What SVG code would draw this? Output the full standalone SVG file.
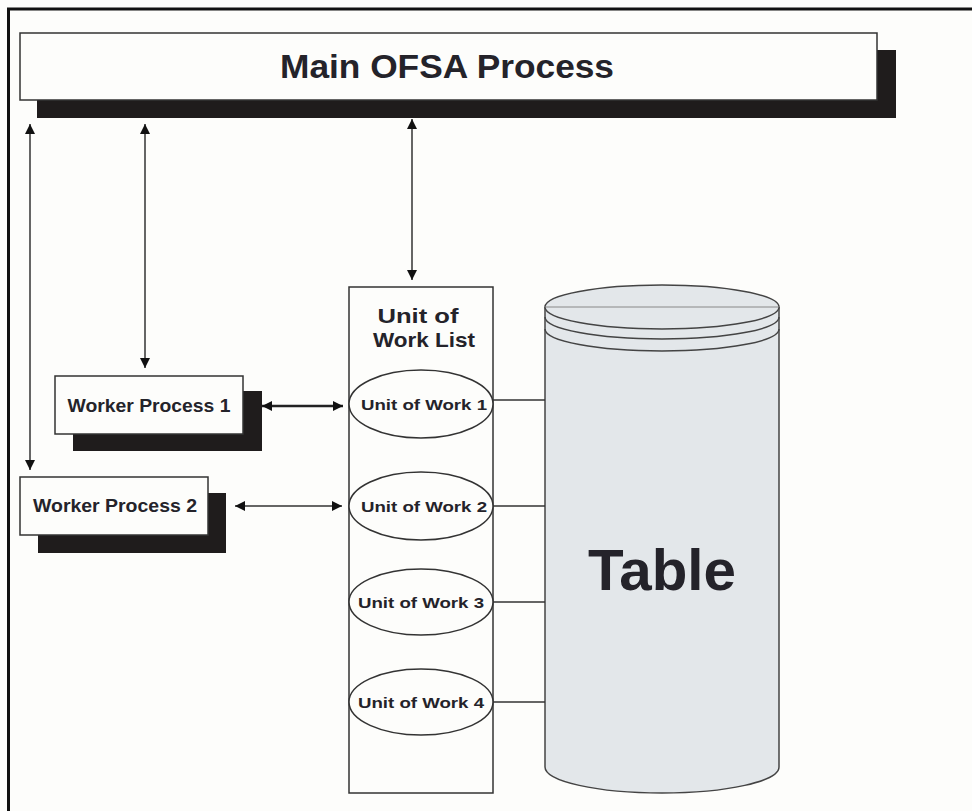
<svg xmlns="http://www.w3.org/2000/svg" width="972" height="811" viewBox="0 0 972 811">
<defs>
<style>
.frame{stroke:#111;stroke-width:3;fill:none}
.box{fill:#fdfdfb;stroke:#333;stroke-width:1.5}
.shadow{fill:#1f1c1c}
.conn{stroke:#333;stroke-width:1.5;fill:none}
.thick{stroke:#222;stroke-width:2.5;fill:none}
.t{font-family:"Liberation Sans",Arial,sans-serif;font-weight:bold;fill:#24232a;text-anchor:middle}
.uow{fill:#fdfdfb;stroke:#333;stroke-width:1.5}
.cyl{fill:#e3e7ea;stroke:#444;stroke-width:1.5}
.ring{fill:none;stroke:#444;stroke-width:1.5}
</style>
<marker id="ah" viewBox="0 0 10 10" refX="10" refY="5" markerWidth="10" markerHeight="10" markerUnits="userSpaceOnUse" orient="auto-start-reverse">
<path d="M0,0 L10,5 L0,10 z" fill="#111"/>
</marker>
</defs>
<rect width="972" height="811" fill="#fdfdfb"/>
<g id="frame">
<line class="frame" x1="7" y1="9" x2="972" y2="9"/>
<line class="frame" x1="8.5" y1="8" x2="8.5" y2="811"/>
</g>
<g id="main">
<rect class="shadow" x="37" y="50" width="859" height="68"/>
<rect class="box" x="20" y="33" width="857" height="67"/>
<text class="t" x="447" y="78" font-size="33" textLength="334" lengthAdjust="spacingAndGlyphs">Main OFSA Process</text>
</g>
<g id="worker1">
<rect class="shadow" x="73" y="391" width="189" height="60"/>
<rect class="box" x="55" y="376" width="188" height="58"/>
<text class="t" x="149" y="412" font-size="18" textLength="163" lengthAdjust="spacingAndGlyphs">Worker Process 1</text>
</g>
<g id="worker2">
<rect class="shadow" x="38" y="493" width="188" height="60"/>
<rect class="box" x="20" y="477" width="188" height="58"/>
<text class="t" x="115" y="512" font-size="18" textLength="164" lengthAdjust="spacingAndGlyphs">Worker Process 2</text>
</g>
<g id="uowlist">
<rect class="box" x="349" y="287" width="144" height="506"/>
<text class="t" x="418" y="323" font-size="21" textLength="81" lengthAdjust="spacingAndGlyphs">Unit of</text>
<text class="t" x="424" y="347" font-size="21" textLength="102" lengthAdjust="spacingAndGlyphs">Work List</text>
</g>
<g id="uow1">
<ellipse class="uow" cx="421" cy="404" rx="72" ry="34"/>
<text class="t" x="424" y="410" font-size="15" textLength="126" lengthAdjust="spacingAndGlyphs">Unit of Work 1</text>
</g>
<g id="uow2">
<ellipse class="uow" cx="421" cy="506" rx="72" ry="34"/>
<text class="t" x="424" y="512" font-size="15" textLength="126" lengthAdjust="spacingAndGlyphs">Unit of Work 2</text>
</g>
<g id="uow3">
<ellipse class="uow" cx="421" cy="602" rx="72" ry="33"/>
<text class="t" x="421" y="608" font-size="15" textLength="126" lengthAdjust="spacingAndGlyphs">Unit of Work 3</text>
</g>
<g id="uow4">
<ellipse class="uow" cx="421" cy="702" rx="72" ry="33"/>
<text class="t" x="421" y="708" font-size="15" textLength="126" lengthAdjust="spacingAndGlyphs">Unit of Work 4</text>
</g>
<g id="table">
<path class="cyl" d="M545,307 L545,767 A117,26 0 0 0 779,767 L779,307 A117,22 0 0 0 545,307 z"/>
<path class="ring" d="M545,307 A117,22 0 0 0 779,307"/>
<path class="ring" d="M545,317 A117,22 0 0 0 779,317"/>
<path class="ring" d="M545,329 A117,22 0 0 0 779,329"/>
<line x1="545" y1="307" x2="779" y2="307" stroke="#888" stroke-width="1"/>
<text class="t" x="662" y="590" font-size="58" textLength="148" lengthAdjust="spacingAndGlyphs">Table</text>
</g>
<g id="connectors">
<line class="conn" x1="30" y1="124" x2="30" y2="470" marker-start="url(#ah)" marker-end="url(#ah)"/>
<line class="conn" x1="145" y1="124" x2="145" y2="368" marker-start="url(#ah)" marker-end="url(#ah)"/>
<line class="conn" x1="412" y1="119" x2="412" y2="280" marker-start="url(#ah)" marker-end="url(#ah)"/>
<line class="thick" x1="262" y1="406" x2="343" y2="406" marker-start="url(#ah)" marker-end="url(#ah)"/>
<line class="conn" x1="235" y1="506" x2="342" y2="506" marker-start="url(#ah)" marker-end="url(#ah)"/>
<line class="conn" x1="493" y1="400" x2="545" y2="400"/>
<line class="conn" x1="493" y1="506" x2="545" y2="506"/>
<line class="conn" x1="493" y1="602" x2="545" y2="602"/>
<line class="conn" x1="493" y1="702" x2="545" y2="702"/>
</g>
</svg>
